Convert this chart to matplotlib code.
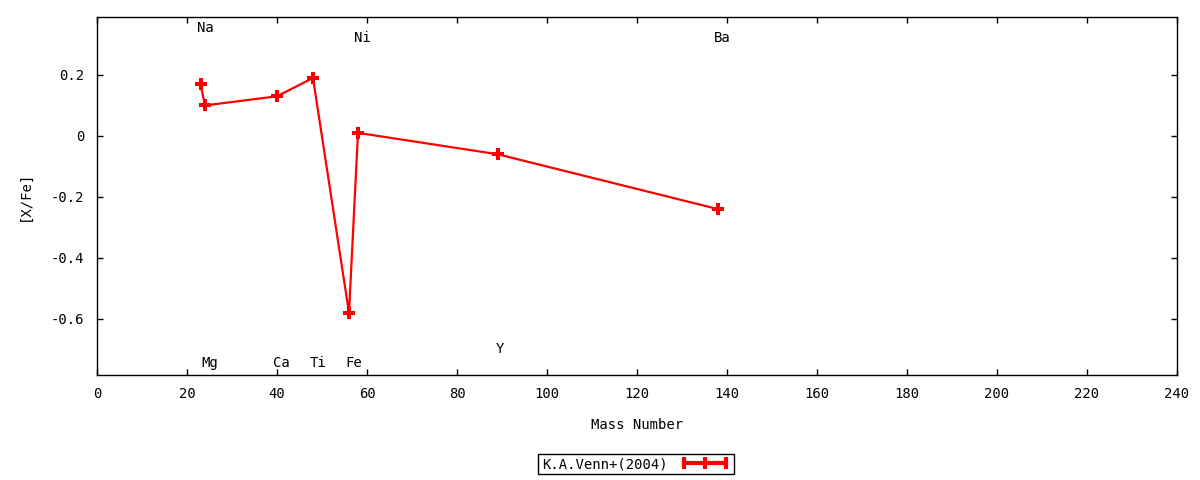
import numpy as np
import matplotlib
matplotlib.use("Agg")
import matplotlib.pyplot as plt
from matplotlib.lines import Line2D

# donnees : nombre de masse et [X/Fe] (K.A.Venn+ 2004)
elements = ["Na", "Mg", "Ca", "Ti", "Fe", "Ni", "Y", "Ba"]
mass = [23, 24, 40, 48, 56, 58, 89, 138]
xfe = [0.17, 0.10, 0.13, 0.19, -0.58, 0.01, -0.06, -0.24]

# position des etiquettes des elements
label_x = [24, 25, 41, 49, 57, 59, 89.5, 139]
label_y = [0.355, -0.745, -0.745, -0.745, -0.745, 0.322, -0.698, 0.322]

plt.rcParams['font.family'] = ['DejaVu Sans Mono']
plt.rcParams['font.size'] = 10

fig = plt.figure(figsize=(12, 4.8), dpi=100)
ax = fig.add_axes([97/1200, 1 - 375/480, 1080/1200, 358/480])

ax.plot(mass, xfe, color="red", lw=1.6, marker="P", markersize=8.5,
        markeredgewidth=0)

for el, lx, ly in zip(elements, label_x, label_y):
    ax.text(lx, ly, el, ha="center", va="center")

ax.set_xlim(0, 240)
ax.set_ylim(-0.784, 0.39)
ax.set_xticks(np.arange(0, 241, 20))
ax.set_yticks([-0.6, -0.4, -0.2, 0, 0.2])
ax.set_yticklabels(["-0.6", "-0.4", "-0.2", "0", "0.2"])
ax.tick_params(direction="in", length=4, width=1, pad=9,
               top=True, right=True)
for s in ax.spines.values():
    s.set_linewidth(1)

ax.set_xlabel("Mass Number", labelpad=12)
ax.set_ylabel("[X/Fe]", labelpad=14)

# echantillon de legende facon gnuplot
h = Line2D([], [], color="red", lw=3, marker="|", markersize=8,
           markeredgewidth=3)
fig.legend([h], ["K.A.Venn+(2004)"], loc="center",
           bbox_to_anchor=(636/1200, 1 - 464/480), numpoints=3,
           markerfirst=False, fancybox=False, framealpha=1,
           edgecolor="black", handlelength=3.6, borderpad=0.25,
           handletextpad=0.9, borderaxespad=0)
fig.legends[0].get_frame().set_linewidth(1)

plt.savefig("out.png", dpi=100)
